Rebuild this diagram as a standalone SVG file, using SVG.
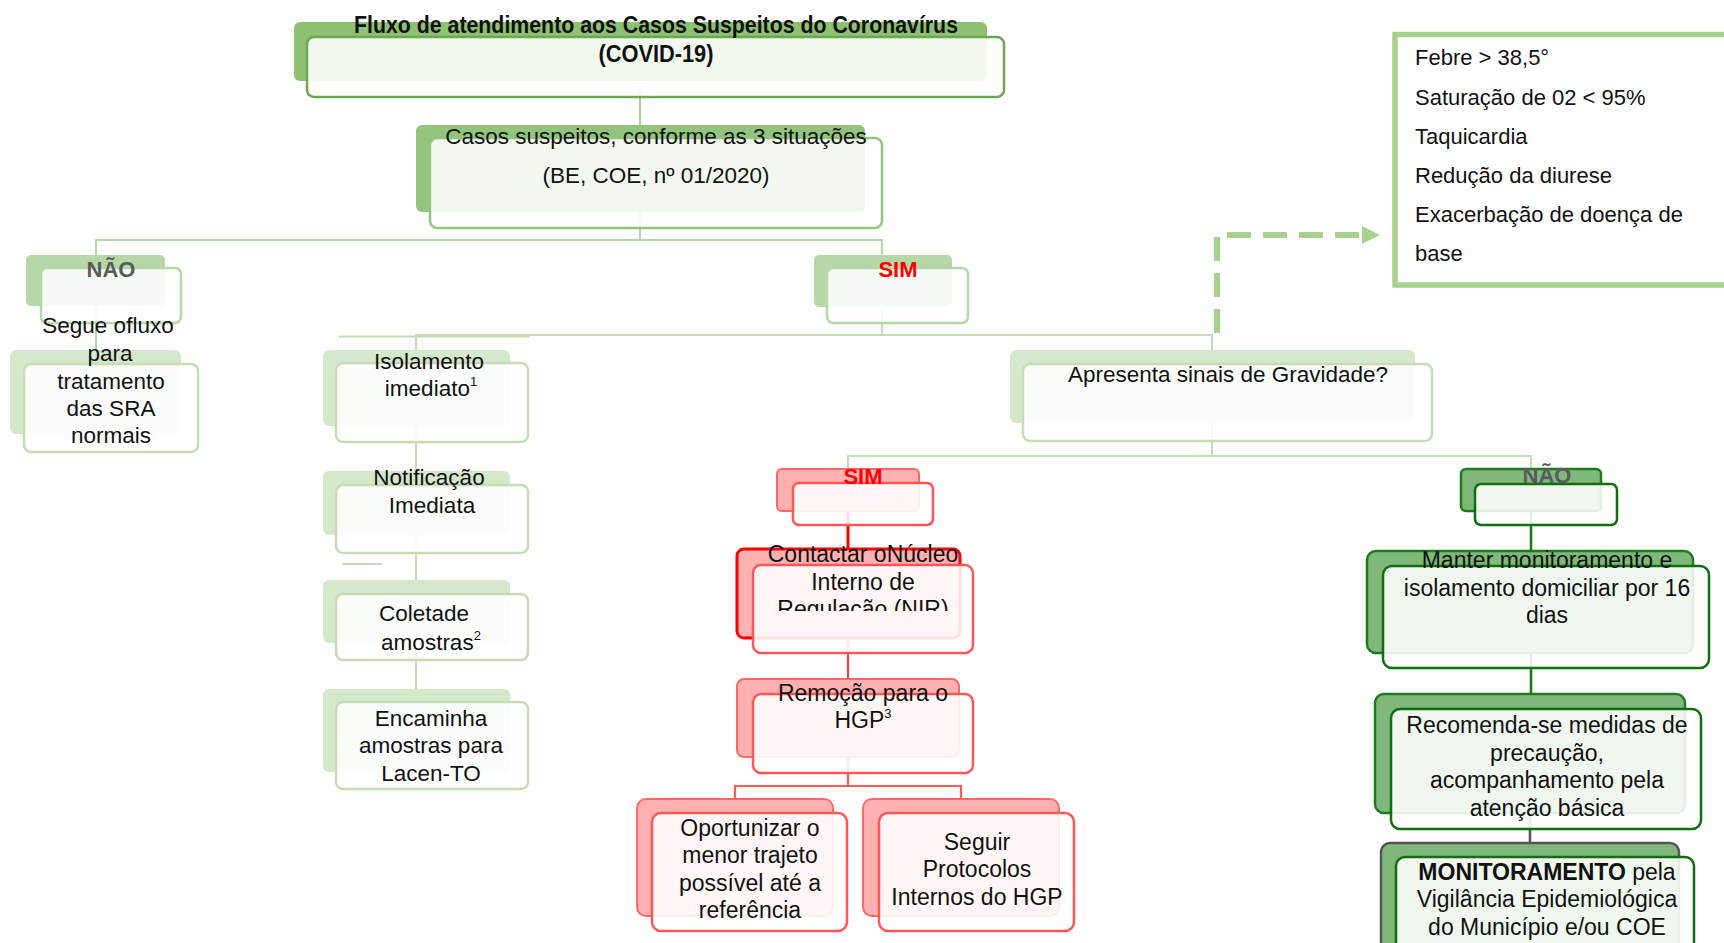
<svg xmlns="http://www.w3.org/2000/svg" width="1724" height="943" viewBox="0 0 1724 943">
<defs>
<style>
text{font-family:"Liberation Sans",Arial,sans-serif;fill:#111}
.c{text-anchor:middle}
.b{font-size:22.5px}
.m{font-size:23px}
.h{font-weight:bold}
.gray{fill:#5a5a5a}
.red{fill:#ff0000}
.sup{font-size:13px}
.f{fill:#fff;fill-opacity:.88;stroke-width:2.5}
.s1{fill:#8fc173}
.s2{fill:#b6d7a8}
.s3{fill:#d6e8cc}
.sr{fill:#ffb0b0;stroke:#ff6868;stroke-width:2}
.sg{fill:#80b87c;stroke:#1f7a1f;stroke-width:2.5}
.fr{stroke:#ff5656}
.fg{stroke:#0f6e0f}
.ln{fill:none;stroke-width:2.2}
.info{font-size:22px}
</style>
<clipPath id="clipNIR"><rect x="700" y="540" width="300" height="71"/></clipPath>
</defs>
<rect width="1724" height="943" fill="#fff"/>

<g id="connectors">
<line class="ln" x1="640" y1="85" x2="640" y2="125" stroke="#a9d18e"/>
<polyline class="ln" points="640,212 640,240" stroke="#b6d7a8"/>
<polyline class="ln" points="96,255 96,240 882,240 882,255" stroke="#b6d7a8"/>
<line class="ln" x1="96" y1="306" x2="96" y2="350" stroke="#b6d7a8"/>
<line class="ln" x1="882" y1="307" x2="882" y2="335" stroke="#c5dcb5"/>
<polyline class="ln" points="416,350 416,335 1212,335 1212,350" stroke="#c5dcb5"/>
<line class="ln" x1="339" y1="336.5" x2="530" y2="336.5" stroke="#c5dcb5"/>
<line class="ln" x1="416" y1="426" x2="416" y2="689" stroke="#c5dcb5"/>
<line class="ln" x1="342" y1="564" x2="382" y2="564" stroke="#c5dcb5"/>
<line class="ln" x1="1212" y1="423" x2="1212" y2="456" stroke="#c5dcb5"/>
<polyline class="ln" points="848,469 848,456 1531,456 1531,469" stroke="#c5dcb5"/>
<line x1="848" y1="511" x2="848" y2="549" stroke="#ff0000" stroke-width="3"/>
<line class="ln" x1="848" y1="638" x2="848" y2="679" stroke="#ee4040"/>
<polyline class="ln" points="848,757 848,786" stroke="#ff5a5a"/>
<polyline class="ln" points="735,799 735,786 961,786 961,799" stroke="#ff5a5a" stroke-width="2.6"/>
<line x1="1531" y1="511" x2="1531" y2="551" stroke="#1f7a1f" stroke-width="2.6"/>
<line x1="1531" y1="653" x2="1531" y2="694" stroke="#1f7a1f" stroke-width="2.6"/>
<line x1="1530" y1="813" x2="1530" y2="843" stroke="#5a5a5a" stroke-width="2.6"/>
<path d="M1217,333 V235 H1362" fill="none" stroke="#a9d18e" stroke-width="6" stroke-dasharray="24 12"/>
<polygon points="1362,226 1380,235 1362,244" fill="#a9d18e"/>
</g>

<g id="title">
<rect class="s1" x="294" y="22" width="693" height="59" rx="6"/>
<rect class="f" x="307" y="37" width="697" height="60" rx="7" stroke="#6aa84f"/>
<text class="c h" x="656" y="33" font-size="24" textLength="604" lengthAdjust="spacingAndGlyphs">Fluxo de atendimento aos Casos Suspeitos do Coronavírus</text>
<text class="c h" x="656" y="62" font-size="24" textLength="115" lengthAdjust="spacingAndGlyphs">(COVID-19)</text>
</g>

<g id="casos">
<rect class="s1" x="416" y="125" width="449" height="87" rx="6" style="fill:#93c47d"/>
<rect class="f" x="430" y="138" width="452" height="90" rx="7" stroke="#93c47d"/>
<text class="c b" x="656" y="144">Casos suspeitos, conforme as 3 situações</text>
<text class="c b" x="656" y="183">(BE, COE, nº 01/2020)</text>
</g>

<g id="nao1">
<rect class="s2" x="26" y="255" width="139" height="51" rx="5"/>
<rect class="f" x="41" y="268" width="140" height="55" rx="6" stroke="#b6d7a8"/>
<text class="c h gray" x="111" y="277" font-size="22">NÃO</text>
</g>

<g id="sim1">
<rect class="s2" x="814" y="255" width="138" height="52" rx="5"/>
<rect class="f" x="827" y="268" width="141" height="55" rx="6" stroke="#b6d7a8"/>
<text class="c h red" x="898" y="277" font-size="22">SIM</text>
</g>

<g id="segue">
<rect class="s3" x="10" y="350" width="171" height="84" rx="6"/>
<rect class="f" x="24" y="364" width="174" height="88" rx="7" stroke="#c5dcb5"/>
<text class="c b" x="108" y="333">Segue ofluxo</text>
<text class="c b" x="110" y="361">para</text>
<text class="c b" x="111" y="389">tratamento</text>
<text class="c b" x="111" y="416">das SRA</text>
<text class="c b" x="111" y="443">normais</text>
</g>

<g id="isolamento">
<rect class="s3" x="323" y="350" width="187" height="76" rx="6"/>
<rect class="f" x="336" y="363" width="192" height="79" rx="7" stroke="#c5dcb5"/>
<text class="c b" x="429" y="369">Isolamento</text>
<text class="c b" x="431" y="396">imediato<tspan class="sup" dy="-10">1</tspan></text>
</g>

<g id="notificacao">
<rect class="s3" x="323" y="471" width="187" height="64" rx="6"/>
<rect class="f" x="336" y="485" width="192" height="68" rx="7" stroke="#c5dcb5"/>
<text class="c b" x="429" y="485">Notificação</text>
<text class="c b" x="432" y="513">Imediata</text>
</g>

<g id="coleta">
<rect class="s3" x="323" y="580" width="187" height="63" rx="6"/>
<rect class="f" x="336" y="594" width="192" height="66" rx="7" stroke="#c5dcb5"/>
<text class="c b" x="424" y="621">Coletade</text>
<text class="c b" x="431" y="650">amostras<tspan class="sup" dy="-10">2</tspan></text>
</g>

<g id="encaminha">
<rect class="s3" x="323" y="689" width="187" height="83" rx="6"/>
<rect class="f" x="336" y="702" width="192" height="87" rx="7" stroke="#c5dcb5"/>
<text class="c b" x="431" y="726">Encaminha</text>
<text class="c b" x="431" y="753">amostras para</text>
<text class="c b" x="431" y="781">Lacen-TO</text>
</g>

<g id="apresenta">
<rect class="s3" x="1010" y="350" width="405" height="73" rx="6"/>
<rect class="f" x="1023" y="364" width="409" height="77" rx="7" stroke="#c5dcb5"/>
<text class="c b" x="1228" y="382">Apresenta sinais de Gravidade?</text>
</g>

<g id="info">
<rect x="1395" y="34.5" width="345" height="250.5" fill="#fff" stroke="#a9d18e" stroke-width="5.5"/>
<text class="info" x="1415" y="65">Febre &gt; 38,5°</text>
<text class="info" x="1415" y="104.5">Saturação de 02 &lt; 95%</text>
<text class="info" x="1415" y="143.5">Taquicardia</text>
<text class="info" x="1415" y="183">Redução da diurese</text>
<text class="info" x="1415" y="222">Exacerbação de doença de</text>
<text class="info" x="1415" y="261">base</text>
</g>

<g id="sim2">
<rect class="sr" x="777" y="469" width="142" height="42" rx="5"/>
<rect class="f fr" x="793" y="483" width="140" height="42" rx="6"/>
<text class="c h red" x="863" y="484" font-size="22">SIM</text>
</g>

<g id="contactar">
<rect class="sr" x="737" y="549" width="223" height="89" rx="7" style="stroke:#ff0000;stroke-width:3"/>
<rect class="f fr" x="753" y="565" width="220" height="88" rx="8"/>
<text class="c m" x="863" y="562">Contactar oNúcleo</text>
<text class="c m" x="863" y="590">Interno de</text>
<text class="c m" x="863" y="617" clip-path="url(#clipNIR)">Regulação (NIR)</text>
</g>

<g id="remocao">
<rect class="sr" x="737" y="679" width="222" height="78" rx="7"/>
<rect class="f fr" x="753" y="694" width="220" height="79" rx="8"/>
<text class="c m" x="863" y="701">Remoção para o</text>
<text class="c m" x="863" y="728">HGP<tspan class="sup" dy="-10">3</tspan></text>
</g>

<g id="oportunizar">
<rect class="sr" x="637" y="799" width="196" height="117" rx="9"/>
<rect class="f fr" x="652" y="813" width="195" height="118" rx="9"/>
<text class="c m" x="750" y="836">Oportunizar o</text>
<text class="c m" x="750" y="863">menor trajeto</text>
<text class="c m" x="750" y="891">possível até a</text>
<text class="c m" x="750" y="918">referência</text>
</g>

<g id="seguir">
<rect class="sr" x="863" y="799" width="196" height="117" rx="9"/>
<rect class="f fr" x="879" y="813" width="195" height="118" rx="9"/>
<text class="c m" x="977" y="850">Seguir</text>
<text class="c m" x="977" y="877">Protocolos</text>
<text class="c m" x="977" y="905">Internos do HGP</text>
</g>

<g id="nao2">
<rect class="sg" x="1461" y="469" width="140" height="42" rx="5"/>
<rect class="f fg" x="1475" y="484" width="142" height="41" rx="6"/>
<text class="c h gray" x="1547" y="483" font-size="22">NÃO</text>
</g>

<g id="manter">
<rect class="sg" x="1367" y="551" width="326" height="102" rx="9"/>
<rect class="f fg" x="1383" y="566" width="326" height="102" rx="9"/>
<text class="c m" x="1547" y="568">Manter monitoramento e</text>
<text class="c m" x="1547" y="596">isolamento domiciliar por 16</text>
<text class="c m" x="1547" y="623">dias</text>
</g>

<g id="recomenda">
<rect class="sg" x="1375" y="694" width="310" height="119" rx="9"/>
<rect class="f fg" x="1391" y="709" width="310" height="120" rx="9"/>
<text class="c m" x="1547" y="733">Recomenda-se medidas de</text>
<text class="c m" x="1547" y="761">precaução,</text>
<text class="c m" x="1547" y="788">acompanhamento pela</text>
<text class="c m" x="1547" y="816">atenção básica</text>
</g>

<g id="monitoramento">
<rect class="sg" x="1381" y="843" width="298" height="130" rx="9" style="stroke:#555"/>
<rect class="f fg" x="1396" y="857" width="298" height="120" rx="9"/>
<text class="c m" x="1547" y="880"><tspan class="h">MONITORAMENTO</tspan> pela</text>
<text class="c m" x="1547" y="907">Vigilância Epidemiológica</text>
<text class="c m" x="1547" y="935">do Município e/ou COE</text>
</g>
</svg>
